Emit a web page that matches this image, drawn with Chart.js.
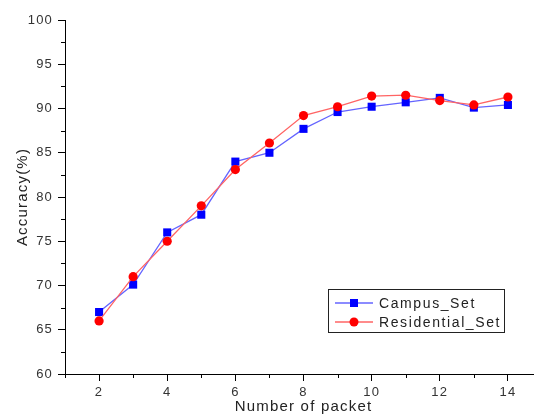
<!DOCTYPE html>
<html>
<head>
<meta charset="utf-8">
<script src="https://cdn.jsdelivr.net/npm/chart.js@4.4.1/dist/chart.umd.min.js"></script>
<style>
  html, body { margin: 0; padding: 0; background: #fff; overflow: hidden; }
  #wrap { width: 534px; height: 416px; overflow: hidden; }
</style>
</head>
<body>
<div id="wrap"><canvas id="accChart" width="548" height="416"></canvas></div>
<script>
// values
const packets = [2, 3, 4, 5, 6, 7, 8, 9, 10, 11, 12, 13, 14];
const campusSet = [67.0, 70.1, 76.0, 78.0, 84.0, 85.0, 87.7, 89.6, 90.2, 90.7, 91.2, 90.1, 90.4];
const residentialSet = [66.0, 71.0, 75.0, 79.0, 83.1, 86.1, 89.2, 90.2, 91.4, 91.5, 90.9, 90.4, 91.3];
const xTickValues = [2, 4, 6, 8, 10, 12, 14];

const FONT = "'Liberation Sans', Arial, sans-serif";

// the original text is a bit spread out
const spacedText = {
    id: 'spacedText',
    beforeDraw(chart) { chart.ctx.letterSpacing = '1.2px'; },
    afterDraw(chart) { chart.ctx.letterSpacing = '0px'; }
};

// small ticks between the labelled ones, outward like the big ones
const minorTicks = {
    id: 'minorTicks',
    afterDraw(chart) {
        const ctx = chart.ctx;
        const xs = chart.scales.x, ys = chart.scales.y;
        ctx.save();
        ctx.strokeStyle = '#000';
        ctx.lineWidth = 1;
        ctx.beginPath();
        const xt = xs.ticks.map(t => t.value);
        const xm = [xs.min];
        for (let i = 0; i < xt.length - 1; i++) xm.push((xt[i] + xt[i + 1]) / 2);
        xm.push(xs.max);
        xm.forEach(v => {
            const px = Math.round(xs.getPixelForValue(v)) + 0.5;
            ctx.moveTo(px, xs.top);
            ctx.lineTo(px, xs.top + 4);
        });
        const yt = ys.ticks.map(t => t.value);
        for (let i = 0; i < yt.length - 1; i++) {
            const py = Math.round(ys.getPixelForValue((yt[i] + yt[i + 1]) / 2)) + 0.5;
            ctx.moveTo(ys.right, py);
            ctx.lineTo(ys.right - 4, py);
        }
        ctx.stroke();
        ctx.restore();
    }
};

// boxed legend inside the plot, lower right
const boxLegend = {
    id: 'boxLegend',
    afterDraw(chart) {
        const ctx = chart.ctx;
        const area = chart.chartArea;
        const sets = chart.data.datasets;
        const rowH = 19;
        const boxW = 176, boxH = 43;
        const bx = area.left + 263, by = area.bottom - 85;
        ctx.save();
        ctx.strokeStyle = '#222';
        ctx.lineWidth = 1;
        ctx.strokeRect(Math.round(bx) + 0.5, Math.round(by) + 0.5, boxW, boxH);
        ctx.font = '14px ' + FONT;
        ctx.letterSpacing = '1.6px';
        ctx.textBaseline = 'middle';
        ctx.fillStyle = '#222';
        sets.forEach((ds, i) => {
            const cy = by + 14 + i * rowH;
            ctx.strokeStyle = ds.borderColor;
            ctx.lineWidth = 1.3;
            ctx.beginPath();
            ctx.moveTo(bx + 7, cy);
            ctx.lineTo(bx + 45, cy);
            ctx.stroke();
            ctx.fillStyle = ds.pointBackgroundColor;
            if (ds.pointStyle === 'rect') {
                ctx.fillRect(bx + 22, cy - 4, 8, 8);
            } else {
                ctx.beginPath();
                ctx.arc(bx + 26, cy, 4.5, 0, Math.PI * 2);
                ctx.fill();
            }
            ctx.fillStyle = '#222';
            ctx.fillText(ds.label, bx + 51, cy + 1);
        });
        ctx.restore();
    }
};

new Chart(document.getElementById('accChart'), {
    type: 'line',
    data: {
        labels: packets,
        datasets: [{
            label: 'Campus_Set',
            data: campusSet,
            borderColor: '#6464ff',
            borderWidth: 1.3,
            pointStyle: 'rect',
            pointRadius: 5.7,
            pointBackgroundColor: '#0000ff',
            pointBorderColor: '#0000ff',
            pointBorderWidth: 0,
            order: 2
        }, {
            label: 'Residential_Set',
            data: residentialSet,
            borderColor: '#ff6464',
            borderWidth: 1.3,
            pointStyle: 'circle',
            pointRadius: 4.6,
            pointBackgroundColor: '#ff0000',
            pointBorderColor: '#ff0000',
            pointBorderWidth: 0,
            order: 1
        }]
    },
    options: {
        responsive: false,
        animation: false,
        events: [],
        layout: { padding: { left: 0, top: 20, right: 6, bottom: 0 } },
        plugins: { legend: { display: false }, tooltip: { enabled: false } },
        scales: {
            x: {
                type: 'linear',
                min: 1,
                max: 15,
                afterBuildTicks: s => { s.ticks = xTickValues.map(v => ({ value: v })); },
                afterFit: s => { s.height = 42; },
                grid: { drawOnChartArea: false, color: '#000', tickLength: 7 },
                border: { color: '#000', width: 1 },
                ticks: { color: '#333', padding: 4, font: { family: FONT, size: 13 } },
                title: {
                    display: true,
                    text: 'Number of packet',
                    color: '#222',
                    padding: 0,
                    font: { family: FONT, size: 15 }
                }
            },
            y: {
                min: 60,
                max: 100,
                ticks: { stepSize: 5, color: '#333', padding: 5, font: { family: FONT, size: 13 } },
                afterFit: s => { s.width = 65; },
                grid: { drawOnChartArea: false, color: '#000', tickLength: 7 },
                border: { color: '#000', width: 1 },
                title: {
                    display: true,
                    text: 'Accuracy(%)',
                    color: '#222',
                    padding: { top: 14, bottom: 0 },
                    font: { family: FONT, size: 15 }
                }
            }
        }
    },
    plugins: [minorTicks, boxLegend, spacedText]
});
</script>
</body>
</html>
